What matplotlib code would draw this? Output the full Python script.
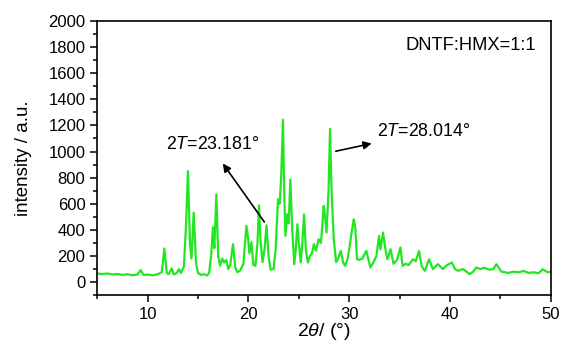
import matplotlib
matplotlib.use('Agg')
import matplotlib.pyplot as plt
from matplotlib.ticker import MultipleLocator

plt.rcParams['font.family'] = 'Liberation Sans'
plt.rcParams['mathtext.fontset'] = 'custom'
plt.rcParams['mathtext.rm'] = 'Liberation Sans'
plt.rcParams['mathtext.it'] = 'Liberation Sans:italic'

two_theta = [5.0, 5.5, 6.0, 6.5, 7.0, 7.5, 8.0, 8.5, 9.0, 9.3, 9.6, 10.0, 10.5, 11.0,
             11.4, 11.66, 11.9, 12.1, 12.39, 12.6, 12.9, 13.1, 13.3, 13.6, 13.8, 14.0,
             14.2, 14.35, 14.57, 14.8, 15.0, 15.3, 15.6, 15.9, 16.1, 16.3, 16.48, 16.62,
             16.82, 17.0, 17.2, 17.4, 17.6, 17.8, 18.0, 18.2, 18.47, 18.7, 18.9, 19.2,
             19.5, 19.8, 19.95, 20.1, 20.3, 20.5, 20.7, 20.9, 21.05, 21.2, 21.4, 21.6,
             21.8, 22.0, 22.2, 22.5, 22.7, 22.94, 23.1, 23.25, 23.43, 23.55, 23.67, 23.86,
             24.0, 24.16, 24.35, 24.55, 24.7, 24.86, 25.0, 25.2, 25.35, 25.52, 25.7, 25.9,
             26.1, 26.3, 26.5, 26.7, 26.97, 27.2, 27.47, 27.6, 27.75, 27.95, 28.1, 28.25,
             28.47, 28.7, 28.9, 29.16, 29.4, 29.6, 29.85, 30.05, 30.2, 30.45, 30.6, 30.78,
             31.0, 31.3, 31.7, 32.1, 32.4, 32.7, 32.96, 33.1, 33.36, 33.6, 33.8, 34.1,
             34.4, 34.75, 35.08, 35.3, 35.6, 35.9, 36.33, 36.6, 36.93, 37.2, 37.5, 37.93,
             38.3, 38.8, 39.3, 39.7, 40.2, 40.5, 40.8, 41.3, 41.96, 42.3, 42.6, 43.0,
             43.4, 43.9, 44.3, 44.6, 45.1, 45.5, 45.8, 46.3, 46.8, 47.3, 47.8, 48.3,
             48.8, 49.2, 49.7, 50.0]
intensity = [65, 62, 66, 58, 62, 55, 60, 52, 58, 92, 55, 58, 52, 60,
             75, 257, 70, 60, 105, 58, 70, 100, 70, 120, 420, 850,
             300, 180, 532, 150, 70, 55, 60, 50, 70, 200, 420, 260,
             672, 200, 125, 180, 150, 170, 100, 130, 290, 110, 76, 90,
             140, 430, 350, 220, 305, 130, 125, 300, 588, 320, 152, 250,
             435, 200, 95, 100, 250, 634, 600, 800, 1244, 700, 354, 519,
             450, 786, 400, 137, 250, 443, 300, 150, 300, 519, 250, 150,
             200, 220, 290, 240, 328, 300, 583, 500, 380, 700, 1173, 700,
             328, 152, 180, 239, 150, 125, 180, 277, 360, 481, 420, 175,
             170, 180, 239, 112, 150, 200, 354, 250, 379, 250, 175, 252,
             140, 170, 265, 125, 140, 130, 175, 160, 239, 120, 86, 175,
             100, 137, 100, 130, 150, 100, 86, 100, 61, 80, 112, 100,
             110, 95, 100, 137, 80, 75, 70, 80, 75, 85, 70, 75,
             68, 98, 75, 80]

fig = plt.figure(figsize=(5.62, 3.44), dpi=100)
ax = fig.add_axes([0.173, 0.142, 0.807, 0.797])

ax.plot(two_theta, intensity, color='#22e622', lw=1.6)

ax.set_xlim(5, 50)
ax.set_ylim(-100, 2000)
ax.xaxis.set_major_locator(MultipleLocator(10))
ax.xaxis.set_minor_locator(MultipleLocator(5))
ax.yaxis.set_major_locator(MultipleLocator(200))
ax.yaxis.set_minor_locator(MultipleLocator(100))
ax.tick_params(which='both', direction='out', labelsize=12, width=1.1)
ax.tick_params(which='major', length=5)
ax.tick_params(which='minor', length=3)
for s in ax.spines.values():
    s.set_linewidth(1.2)

ax.set_xlabel(r'2$\mathit{\theta}$/ (°)', fontsize=14, labelpad=-1)
ax.set_ylabel('intensity / a.u.', fontsize=13.5, labelpad=12)

ax.text(42.1, 1812, 'DNTF:HMX=1:1', fontsize=13.2, ha='center', va='center')

arrow = dict(arrowstyle='-|>', color='black', lw=1.2, mutation_scale=12)
ax.annotate('', xy=(17.3, 926), xytext=(21.74, 443), arrowprops=arrow)
ax.text(16.5, 1053, r'2$\mathit{T}$=23.181°', fontsize=12.8, ha='center', va='center')
ax.annotate('', xy=(32.5, 1066), xytext=(28.4, 998), arrowprops=arrow)
ax.text(37.4, 1155, r'2$\mathit{T}$=28.014°', fontsize=12.8, ha='center', va='center')

fig.savefig('out.png', dpi=100)
